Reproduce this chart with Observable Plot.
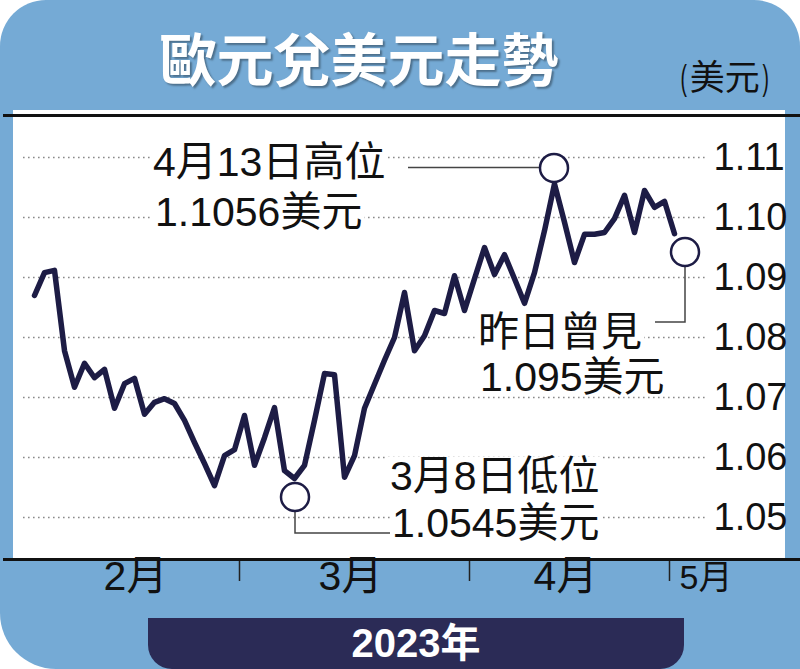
<!DOCTYPE html>
<html><head><meta charset="utf-8">
<script src="https://cdn.jsdelivr.net/npm/d3@7"></script>
<script src="https://cdn.jsdelivr.net/npm/@observablehq/plot@0.6"></script>
<style>
body{margin:0;background:#fff;}
#card{position:relative;width:800px;height:669px;background:#75aad5;border-radius:46px 46px 0 56px;overflow:hidden;}
#panel{position:absolute;left:13px;top:110px;width:772px;height:449px;background:#fff;}
.hr{position:absolute;left:3px;width:797px;height:3px;background:#111;}
#title{position:absolute;left:0;width:718px;top:26px;line-height:60px;text-align:center;color:#fff;font-weight:bold;font-size:57px;font-family:"Noto Sans CJK TC",sans-serif;text-shadow:2px 2px 2px rgba(0,0,0,0.35);white-space:nowrap;}
#unit{position:absolute;left:678px;top:53px;line-height:44px;font-size:35px;color:#111;font-family:"Noto Sans CJK TC",sans-serif;white-space:nowrap;}
#unit span{display:inline-block;transform:scaleX(0.55);font-family:"Liberation Sans",sans-serif;font-weight:normal;}
#year{position:absolute;left:148px;top:618px;width:536px;height:51px;background:#2b2b56;border-radius:0 0 24px 24px;color:#fff;font-weight:bold;font-size:40px;line-height:51px;text-align:center;font-family:"Liberation Sans","Noto Sans CJK TC",sans-serif;}
#chart{position:absolute;left:0;top:0;}
</style></head>
<body>
<div id="card">
  <div id="panel"></div>
  <div id="title">歐元兌美元走勢</div>
  <div id="unit"><span>(</span>美元<span>)</span></div>
  <div id="chart"></div>
  <div class="hr" style="top:114px"></div>
  <div class="hr" style="top:558px"></div>
  <div id="year">2023年</div>
</div>
<script>
// ---- data ----
const startDate = "2023-01-31";
const endDate = "2023-05-02";
// EUR/USD daily readings, Jan 31 to May 1, 2023 (trading days)
const values = [
  1.0870,
  1.0908,1.0912,1.0778,1.0717,1.0757,1.0733,1.0747,1.0682,1.0723,1.0732,
  1.0672,1.0692,1.0698,1.0690,1.0662,1.0625,1.0590,1.0553,1.0603,1.0613,
  1.0670,1.0587,1.0633,1.0683,1.0578,1.0565,1.0587,1.0662,1.0740,1.0738,
  1.0567,1.0603,1.0682,1.0722,1.0762,1.0800,1.0875,1.0778,1.0803,1.0845,
  1.0840,1.0903,1.0845,
  1.0898,1.0950,1.0905,1.0938,1.0898,1.0857,1.0908,1.0978,1.1056,1.0992,
  1.0925,1.0972,1.0972,1.0975,1.0998,1.1037,1.0975,1.1045,1.1017,1.1027,
  1.0973
];
const yTicks = [1.05, 1.06, 1.07, 1.08, 1.09, 1.10, 1.11];
const monthNames = ["2月", "3月", "4月", "5月"];
const calloutDates = ["2023-04-13", "2023-03-08", "2023-05-02"];
const calloutValues = [1.1056, 1.0565, 1.095];
const calloutTexts = [["4月13日高位", "1.1056美元"], ["3月8日低位", "1.0545美元"], ["昨日曾見", "1.095美元"]];

// ---- derived tables ----
const dates = d3.utcDay.range(new Date(startDate), d3.utcDay.offset(new Date(endDate), 1))
  .filter(d => d.getUTCDay() % 6 !== 0);
const iso = d3.utcFormat("%Y-%m-%d");
const idx = s => dates.findIndex(d => iso(d) === s);
const rows = values.map((v, i) => ({i, date: dates[i], value: v}));
const boundaries = [];
for (let i = 1; i < dates.length; i++) if (dates[i].getUTCMonth() !== dates[i-1].getUTCMonth()) boundaries.push(i - 0.5);
const monthGroups = d3.groups(dates.map((d, i) => ({m: d.getUTCMonth(), i})), d => d.m).filter(g => g[0] >= 1);
const monthRows = monthGroups.map((g, k) => ({label: monthNames[k], i: d3.mean(g[1], d => d.i), last: k === monthGroups.length - 1}));
const callouts = calloutDates.map((d, k) => ({i: idx(d), value: calloutValues[k], lines: calloutTexts[k]}));

// ---- layout (pixel offsets from each callout's anchor) ----
const calloutLayout = [
  {circle: [0, -15.5], path: "M-14,-16H-146", tx: -401, ty: [-7.4, 42.6]},
  {circle: [1, 19], path: "M1,33V55H98", tx: 96, ty: [12, 59]},
  {circle: [1, 5], path: "M1,19V75H-29", tx: -206, ty: [99, 144]}
];
const navy = "#1d1c45";
const narrow = "'Liberation Sans Narrow','Liberation Sans','Noto Sans CJK TC',sans-serif";
const textFont = "'Liberation Sans','Noto Sans CJK TC',sans-serif";

const calloutMark = (index, scales) => {
  const g = d3.create("svg:g").attr("text-anchor", "start");
  callouts.forEach((c, k) => {
    const L = calloutLayout[k];
    const px = scales.x(c.i), py = scales.y(c.value);
    const cg = g.append("g").attr("transform", `translate(${px},${py})`);
    cg.append("path").attr("d", L.path).attr("fill", "none").attr("stroke", "#444").attr("stroke-width", 1.5);
    cg.append("circle").attr("cx", L.circle[0]).attr("cy", L.circle[1]).attr("r", 14)
      .attr("fill", "#fff").attr("stroke", navy).attr("stroke-width", 2.5);
    c.lines.forEach((t, j) => {
      cg.append("text").attr("class", "callout").attr("x", L.tx + (j ? 2 : 0)).attr("y", L.ty[j])
        .attr("text-anchor", "start")
        .attr("font-size", 41).attr("font-family", textFont).attr("fill", "#111").text(t);
    });
  });
  return g.node();
};

const chart = Plot.plot({
  width: 800,
  height: 669,
  marginTop: 117,
  marginBottom: 110,
  marginLeft: 23,
  marginRight: 92,
  style: {background: "transparent", overflow: "visible"},
  x: {type: "linear", domain: [0, dates.length - 1], range: [34, 684]},
  y: {domain: [1.05, 1.11], range: [517, 157]},
  marks: [
    Plot.gridY(yTicks, {stroke: "#8a8a8a", strokeOpacity: 1, strokeWidth: 1.6, strokeDasharray: "1.6,3.4"}),
    Plot.axisY(yTicks, {anchor: "right", tickSize: 0, tickPadding: 5, tickFormat: d3.format(".2f"),
      fontSize: 38, fontFamily: narrow, fill: "#111", label: null}),
    Plot.axisX(boundaries.slice(1), {anchor: "bottom", tickSize: 22, tickFormat: () => "", stroke: "#222", strokeWidth: 1.5, label: null}),
    Plot.text(monthRows.filter(d => !d.last), {x: "i", text: "label", frameAnchor: "bottom", dy: 30, dx: -4,
      fontSize: 41, fontFamily: narrow, fill: "#111"}),
    Plot.text(monthRows.filter(d => d.last), {x: () => boundaries[boundaries.length - 1], text: "label", frameAnchor: "bottom",
      dy: 29, dx: 10, textAnchor: "start", fontSize: 34, fontFamily: narrow, fill: "#111"}),
    Plot.line(rows, {x: "i", y: "value", stroke: navy, strokeWidth: 5.5, strokeLinejoin: "round", strokeLinecap: "round"}),
    calloutMark
  ]
});
document.getElementById("chart").append(chart);

// white backing behind callout texts so gridlines stop at the words
chart.querySelectorAll("text.callout").forEach(t => {
  const w = t.getComputedTextLength();
  const x = +t.getAttribute("x"), y = +t.getAttribute("y");
  const r = document.createElementNS("http://www.w3.org/2000/svg", "rect");
  r.setAttribute("x", x - 2); r.setAttribute("y", y - 33); r.setAttribute("width", w + 4); r.setAttribute("height", 38);
  r.setAttribute("fill", "#fff");
  t.parentNode.insertBefore(r, t);
});
</script>
</body></html>
